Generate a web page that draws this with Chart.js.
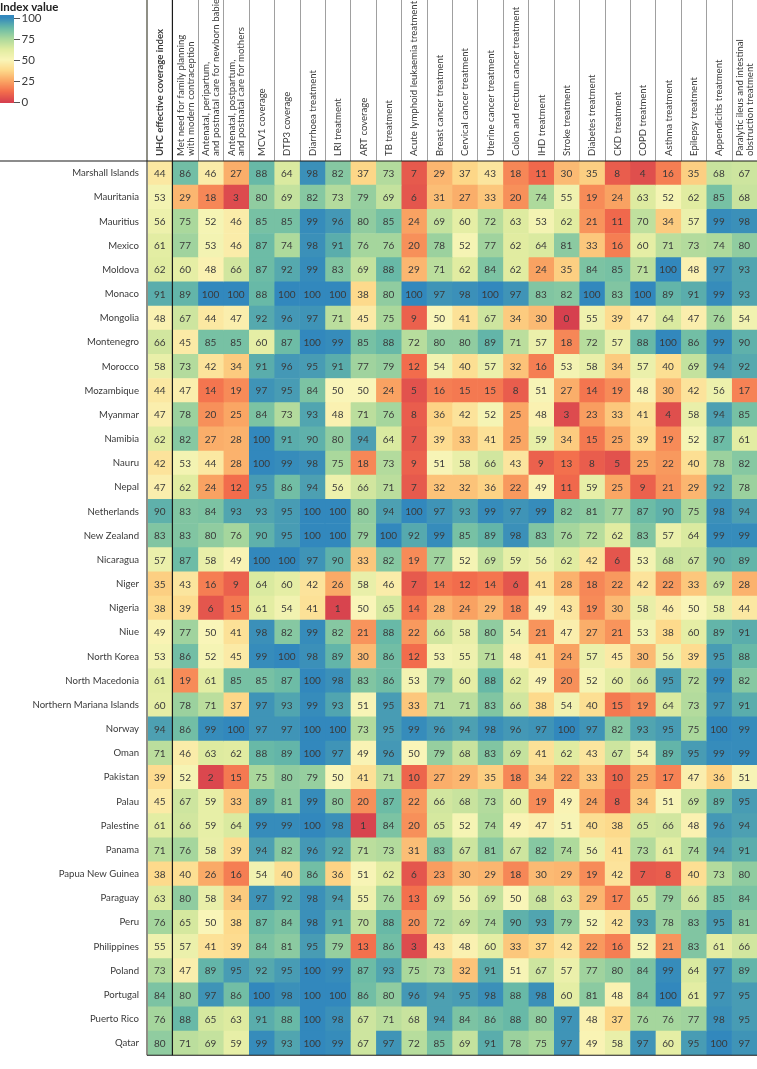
<!DOCTYPE html>
<html>
<head>
<meta charset="utf-8">
<script src="https://cdn.jsdelivr.net/npm/chart.js@4"></script>
<style>
  html, body { margin: 0; padding: 0; background: #fff; }
  #wrap { width: 757px; height: 1069px; position: relative; }
</style>
</head>
<body>
<div id="wrap"><canvas id="heat"></canvas></div>
<script>
// Countries (rows)
const countries = ['Marshall Islands', 'Mauritania', 'Mauritius', 'Mexico', 'Moldova', 'Monaco', 'Mongolia',
    'Montenegro', 'Morocco', 'Mozambique', 'Myanmar', 'Namibia', 'Nauru', 'Nepal', 'Netherlands', 'New Zealand',
    'Nicaragua', 'Niger', 'Nigeria', 'Niue', 'North Korea', 'North Macedonia', 'Northern Mariana Islands',
    'Norway', 'Oman', 'Pakistan', 'Palau', 'Palestine', 'Panama', 'Papua New Guinea', 'Paraguay', 'Peru',
    'Philippines', 'Poland', 'Portugal', 'Puerto Rico', 'Qatar'];

// Column headers
const indicatorLabels = [
    'UHC effective coverage index',
    ['Met need for family planning', 'with modern contraception'],
    ['Antenatal, peripartum,', 'and postnatal care for newborn babies'],
    ['Antenatal, postpartum,', 'and postnatal care for mothers'],
    'MCV1 coverage', 'DTP3 coverage', 'Diarrhoea treatment', 'LRI treatment', 'ART coverage', 'TB treatment',
    'Acute lymphoid leukaemia treatment', 'Breast cancer treatment', 'Cervical cancer treatment',
    'Uterine cancer treatment', 'Colon and rectum cancer treatment', 'IHD treatment', 'Stroke treatment',
    'Diabetes treatment', 'CKD treatment', 'COPD treatment', 'Asthma treatment', 'Epilepsy treatment',
    'Appendicitis treatment', ['Paralytic ileus and intestinal', 'obstruction treatment']
];

// One array per indicator, in country order
const uhc =          [44,53,56,61,62,91,48,66,58,44,47,62,42,47,90,83,57,35,38,49,53,61,60,94,71,39,45,61,71,38,63,76,55,73,84,76,80];
const metNeed =      [86,29,75,77,60,89,67,45,73,47,78,82,53,62,83,83,87,43,39,77,86,19,78,86,46,52,67,66,76,40,80,65,57,47,80,88,71];
const ancBabies =    [46,18,52,53,48,100,44,85,42,14,20,27,44,24,84,80,58,16,6,50,52,61,71,99,63,2,59,59,58,26,58,50,41,89,97,65,69];
const ancMothers =   [27,3,46,46,66,100,47,85,34,19,25,28,28,12,93,76,49,9,15,41,45,85,37,100,62,15,33,64,39,16,34,38,39,95,86,63,59];
const mcv1 =         [88,80,85,87,87,88,92,60,91,97,84,100,100,95,93,90,100,64,61,98,99,85,97,97,88,75,89,99,94,54,97,87,84,92,100,91,99];
const dtp3 =         [64,69,85,74,92,100,96,87,96,95,73,91,99,86,95,95,100,60,54,82,100,87,93,97,89,80,81,99,82,40,92,84,81,95,98,88,93];
const diarrhoea =    [98,82,99,98,99,100,97,100,95,84,93,90,98,94,100,100,97,42,41,99,98,100,99,100,100,79,99,100,96,86,98,98,95,100,100,100,100];
const lri =          [82,73,96,91,83,100,71,99,91,50,48,80,75,56,100,100,90,26,1,82,89,98,93,100,97,50,80,98,92,36,94,91,79,99,100,98,99];
const art =          [37,79,80,76,69,38,45,85,77,50,71,94,18,66,80,79,33,58,50,21,30,83,51,73,49,41,20,1,71,51,55,70,13,87,86,67,67];
const tb =           [73,69,85,76,88,80,75,88,79,24,76,64,73,71,94,100,82,46,65,88,86,86,95,95,96,71,87,84,73,62,76,88,86,93,80,71,97];
const leukaemia =    [7,6,24,20,29,100,9,72,12,5,8,7,9,7,100,92,19,7,14,22,12,53,33,99,50,10,22,20,31,6,13,20,3,75,96,68,72];
const breast =       [29,31,69,78,71,97,50,80,54,16,36,39,51,32,97,99,77,14,28,66,53,79,71,96,79,27,66,65,83,23,69,72,43,73,94,94,85];
const cervical =     [37,27,60,52,62,98,41,80,40,15,42,33,58,32,93,85,52,12,24,58,55,60,71,94,68,29,68,52,67,30,56,69,48,32,95,84,69];
const uterine =      [43,33,72,77,84,100,67,89,57,15,52,41,66,36,99,89,69,14,29,80,71,88,83,98,83,35,73,74,81,29,69,74,60,91,98,86,91];
const colon =        [18,20,63,62,62,97,34,71,32,8,25,25,43,22,97,98,59,6,18,54,48,62,66,96,69,18,60,49,67,18,50,90,33,51,88,88,78];
const ihd =          [11,74,53,64,24,83,30,57,16,51,48,59,9,49,99,83,56,41,49,21,41,49,38,97,41,34,19,47,82,30,68,93,37,67,98,80,75];
const stroke =       [30,55,62,81,35,82,0,18,53,27,3,34,13,11,82,76,62,28,43,47,24,20,54,100,62,22,49,51,74,29,63,79,42,57,60,97,97];
const diabetes =     [35,19,21,33,84,100,55,72,58,14,23,15,8,59,81,72,42,18,19,27,57,52,40,97,43,33,24,40,56,19,29,52,22,77,81,48,49];
const ckd =          [8,24,11,16,85,83,39,57,34,19,33,25,5,25,77,62,6,22,30,21,45,60,15,82,67,10,8,38,41,42,17,42,16,80,48,37,58];
const copd =         [4,63,70,60,71,100,47,88,57,48,41,39,25,9,87,83,53,42,58,53,30,66,19,93,54,25,34,65,73,7,65,93,52,84,84,76,97];
const asthma =       [16,52,34,71,100,89,64,100,40,30,4,19,22,21,90,57,68,22,46,38,56,95,64,95,89,17,51,66,61,8,79,78,21,99,100,76,60];
const epilepsy =     [35,62,57,73,48,91,47,86,69,42,58,52,40,29,75,64,67,33,50,60,39,72,73,75,95,47,69,48,74,40,66,83,83,64,61,77,95];
const appendicitis = [68,85,99,74,97,99,76,99,94,56,94,87,78,92,98,99,90,69,58,89,95,99,97,100,99,36,89,96,94,73,85,95,61,97,97,98,100];
const paralytic =    [67,68,98,80,93,93,54,90,92,17,85,61,82,78,94,99,89,28,44,91,88,82,91,99,99,51,95,94,91,80,84,81,66,89,95,95,97];

// Legend tick labels
const legendTicks = [0, 25, 50, 75, 100];

const indicatorValues = [uhc, metNeed, ancBabies, ancMothers, mcv1, dtp3, diarrhoea, lri, art, tb, leukaemia,
    breast, cervical, uterine, colon, ihd, stroke, diabetes, ckd, copd, asthma, epilepsy, appendicitis, paralytic];

// Spectral-like colour ramp, 0 = red, 50 = pale yellow, 100 = blue
const colourStops = [
    [0, [214, 64, 78]], [12.5, [243, 110, 76]], [25, [250, 166, 100]], [37.5, [253, 217, 138]],
    [50, [249, 245, 184]], [62.5, [224, 236, 160]], [75, [170, 216, 156]], [87.5, [106, 187, 166]],
    [100, [50, 136, 189]]
];

function colourFor(v) {
    for (let i = 1; i < colourStops.length; i++) {
        const [v1, c1] = colourStops[i];
        const [v0, c0] = colourStops[i - 1];
        if (v <= v1) {
            const t = (v - v0) / (v1 - v0);
            const c = c0.map((x, k) => Math.round(x + (c1[k] - x) * t));
            return `rgb(${c[0]},${c[1]},${c[2]})`;
        }
    }
    return 'rgb(50,136,189)';
}

const FONT = 'Lato, "Open Sans", sans-serif';
const TEXT = '#3a3a3a';

// Draws cell numbers, column headers, the rules and the colour legend
const heatmapExtras = {
    id: 'heatmapExtras',
    beforeDraw(chart) {
        const ctx = chart.ctx;
        ctx.save();
        ctx.fillStyle = '#fff';
        ctx.fillRect(0, 0, chart.width, chart.height);
        ctx.restore();
    },
    afterDatasetsDraw(chart) {
        const ctx = chart.ctx;
        ctx.save();
        ctx.font = `10px ${FONT}`;
        ctx.fillStyle = TEXT;
        ctx.textAlign = 'center';
        ctx.textBaseline = 'middle';
        chart.data.datasets.forEach((ds, c) => {
            chart.getDatasetMeta(c).data.forEach((bar, r) => {
                ctx.fillText(String(indicatorValues[c][r]), (bar.x + bar.base) / 2, bar.y + 0.5);
            });
        });
        ctx.restore();
    },
    afterDraw(chart) {
        const ctx = chart.ctx;
        const area = chart.chartArea;
        const xs = chart.scales.x;
        ctx.save();

        // rotated column headers
        ctx.fillStyle = TEXT;
        ctx.textAlign = 'left';
        ctx.textBaseline = 'middle';
        indicatorLabels.forEach((label, c) => {
            const lines = Array.isArray(label) ? label : [label];
            const cx = xs.getPixelForValue(c + 0.5);
            ctx.font = `${c === 0 ? 'bold ' : ''}9.6px ${FONT}`;
            lines.forEach((line, k) => {
                const dx = (k - (lines.length - 1) / 2) * 9.7;
                ctx.save();
                ctx.translate(cx + dx + 0.5, area.top - 5);
                ctx.rotate(-Math.PI / 2);
                ctx.fillText(line, 0, 0);
                ctx.restore();
            });
        });

        // header dividers
        ctx.strokeStyle = '#a0a0a0';
        ctx.lineWidth = 1;
        for (let c = 2; c <= indicatorLabels.length; c++) {
            const px = Math.round(xs.getPixelForValue(c)) + 0.5;
            ctx.beginPath();
            ctx.moveTo(px, 0);
            ctx.lineTo(px, area.top);
            ctx.stroke();
        }

        // left edge of the grid (grey) and separator after UHC (black)
        ctx.strokeStyle = '#8f8f86';
        ctx.lineWidth = 2;
        ctx.beginPath();
        ctx.moveTo(area.left, 0);
        ctx.lineTo(area.left, area.bottom);
        ctx.stroke();

        ctx.strokeStyle = '#1a1a1a';
        ctx.lineWidth = 1.2;
        const sep = xs.getPixelForValue(1);
        ctx.beginPath();
        ctx.moveTo(sep, 0);
        ctx.lineTo(sep, area.bottom);
        ctx.stroke();

        // header rule and bottom rule
        ctx.beginPath();
        ctx.moveTo(0, area.top);
        ctx.lineTo(chart.width, area.top);
        ctx.stroke();
        ctx.beginPath();
        ctx.moveTo(area.left, area.bottom);
        ctx.lineTo(chart.width, area.bottom);
        ctx.stroke();

        // legend
        ctx.fillStyle = '#222';
        ctx.font = `bold 11.5px ${FONT}`;
        ctx.textAlign = 'left';
        ctx.textBaseline = 'middle';
        ctx.fillText('Index value', 0, 7);

        const barTop = 15, barBottom = 103, valTop = 17.5, valBottom = 102;
        const yFor = v => valBottom - (valBottom - valTop) * v / 100;
        for (let y = barTop; y < barBottom; y++) {
            const v = Math.max(0, Math.min(100, (valBottom - (y + 0.5)) / (valBottom - valTop) * 100));
            ctx.fillStyle = colourFor(v);
            ctx.fillRect(0, y, 14, 1);
        }
        ctx.strokeStyle = '#555';
        ctx.lineWidth = 1;
        ctx.fillStyle = TEXT;
        ctx.font = `11.5px ${FONT}`;
        legendTicks.forEach(t => {
            const y = Math.round(yFor(t)) + 0.5;
            ctx.beginPath();
            ctx.moveTo(14, y);
            ctx.lineTo(20, y);
            ctx.stroke();
            ctx.fillText(String(t), 21.5, y);
        });
        ctx.restore();
    }
};

document.addEventListener('DOMContentLoaded', () => {
    const datasets = indicatorValues.map((vals, c) => ({
        label: Array.isArray(indicatorLabels[c]) ? indicatorLabels[c].join(' ') : indicatorLabels[c],
        data: countries.map(() => [c, c + 1]),
        backgroundColor: ctx => colourFor(vals[ctx.dataIndex]),
        borderWidth: 0,
        borderSkipped: false,
        barPercentage: 1,
        categoryPercentage: 1,
        grouped: false
    }));

    new Chart(document.getElementById('heat'), {
        type: 'bar',
        data: { labels: countries, datasets },
        options: {
            indexAxis: 'y',
            responsive: true,
            maintainAspectRatio: false,
            animation: false,
            layout: { padding: 0 },
            plugins: { legend: { display: false }, tooltip: { enabled: false } },
            scales: {
                x: {
                    type: 'linear',
                    position: 'top',
                    min: 0,
                    max: indicatorLabels.length,
                    grid: { display: false, drawTicks: false },
                    border: { display: false },
                    ticks: { display: false },
                    afterFit: scale => { scale.height = 161; }
                },
                y: {
                    type: 'category',
                    grid: { display: false, drawTicks: false },
                    border: { display: false },
                    ticks: {
                        autoSkip: false,
                        padding: 8,
                        color: TEXT,
                        font: { family: FONT, size: 9.6 }
                    },
                    afterFit: scale => { scale.width = 147; }
                }
            }
        },
        plugins: [heatmapExtras]
    });
});
</script>
</body>
</html>
